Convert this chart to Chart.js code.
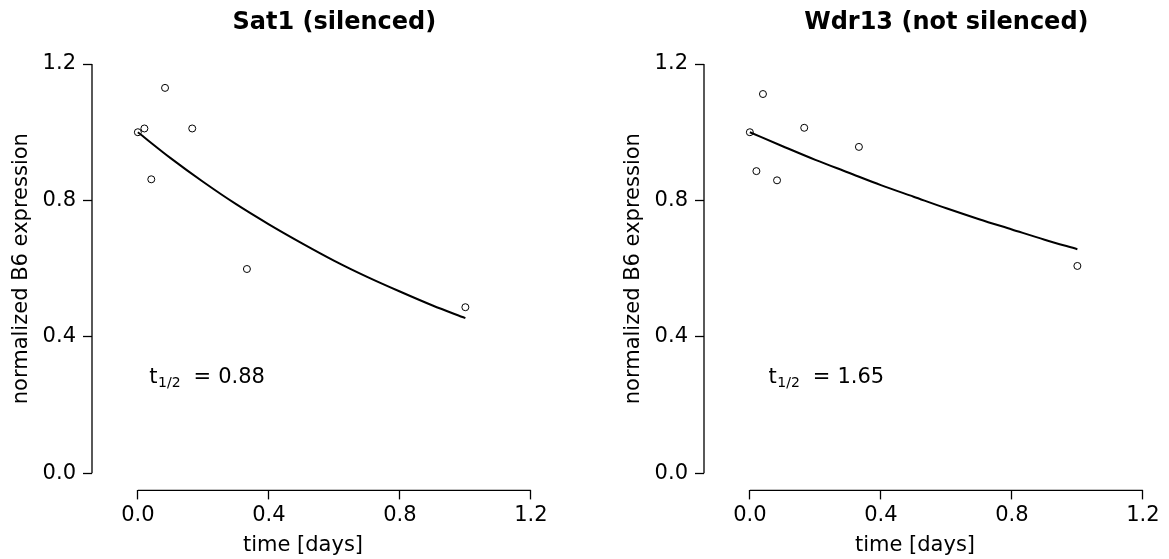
<!DOCTYPE html>
<html>
<head>
<meta charset="utf-8">
<script src="https://cdn.jsdelivr.net/npm/chart.js@4.4.1/dist/chart.umd.min.js"></script>
<style>
  body { margin: 0; background: #fff; }
  #wrap { position: relative; width: 1169px; height: 559px; }
  canvas { position: absolute; top: 0; }
</style>
</head>
<body>
<div id="wrap">
  <canvas id="panelSat1" width="557" height="559" style="left:0px"></canvas>
  <canvas id="panelWdr13" width="557" height="559" style="left:612px"></canvas>
</div>
<script>
// tiempos de muestreo (dias) y expresion normalizada
const timeDays = [0, 0.020, 0.041, 0.083, 0.166, 0.333, 1.0];
const sat1Values = [1.000, 1.011, 0.862, 1.130, 1.011, 0.599, 0.487];
const wdr13TimeDays = [0, 0.020, 0.040, 0.083, 0.166, 0.333, 1.0];
const wdr13Values = [1.000, 0.886, 1.112, 0.859, 1.013, 0.957, 0.608];

// curvas ajustadas
const fitTime = [0, 0.1, 0.2, 0.3, 0.4, 0.5, 0.6, 0.7, 0.8, 0.9, 1.0];
const sat1Fit = [1.000, 0.924, 0.854, 0.789, 0.730, 0.675, 0.623, 0.576, 0.533, 0.492, 0.455];
const wdr13Fit = [1.000, 0.959, 0.919, 0.882, 0.845, 0.811, 0.777, 0.745, 0.715, 0.685, 0.657];

const xTicks = [0, 0.4, 0.8, 1.2];
const yTicks = [0, 0.4, 0.8, 1.2];

const panelTitles = ['Sat1 (silenced)', 'Wdr13 (not silenced)'];
const xLabel = 'time [days]';
const yLabel = 'normalized B6 expression';
const halfLives = ['0.88', '1.65'];
const halfLifePosX = [0.035, 0.057];
const halfLifePosY = 0.265;

const FONT = '"DejaVu Sans", Verdana, sans-serif';

// ejes estilo R + textos
const rStyle = {
  id: 'rStyle',
  afterDraw(chart, args, opts) {
    const { ctx, chartArea, scales: { x, y } } = chart;
    const x0 = x.getPixelForValue(xTicks[0]);
    const x1 = x.getPixelForValue(xTicks[xTicks.length - 1]);
    const y0 = y.getPixelForValue(yTicks[0]);
    const y1 = y.getPixelForValue(yTicks[yTicks.length - 1]);
    ctx.save();
    ctx.strokeStyle = '#000';
    ctx.lineWidth = 1.3;
    ctx.beginPath();
    ctx.moveTo(chartArea.left, y0);
    ctx.lineTo(chartArea.left, y1);
    ctx.moveTo(x0, chartArea.bottom);
    ctx.lineTo(x1, chartArea.bottom);
    ctx.stroke();

    ctx.fillStyle = '#000';
    ctx.textAlign = 'center';
    ctx.textBaseline = 'middle';
    ctx.font = 'bold 24px ' + FONT;
    ctx.fillText(opts.titulo, (x0 + x1) / 2, 23);

    ctx.font = '21px ' + FONT;
    ctx.fillText(xLabel, chartArea.left + 211, 546);

    ctx.save();
    ctx.translate(chartArea.left - 70, (y0 + y1) / 2);
    ctx.rotate(-Math.PI / 2);
    ctx.fillText(yLabel, 0, 0);
    ctx.restore();

    // t1/2 = ...
    const px = x.getPixelForValue(opts.tx);
    const py = y.getPixelForValue(halfLifePosY);
    ctx.textAlign = 'left';
    ctx.textBaseline = 'alphabetic';
    ctx.fillText('t', px, py);
    let cx = px + ctx.measureText('t').width + 0.5;
    ctx.font = '14px ' + FONT;
    ctx.fillText('1/2', cx, py + 4);
    cx += ctx.measureText('1/2').width + 13;
    ctx.font = '21px ' + FONT;
    ctx.fillText('=', cx, py);
    cx += ctx.measureText('=').width + 7;
    ctx.fillText(opts.valor, cx, py);
    ctx.restore();
  }
};

function crearPanel(canvasId, times, values, fit, idx) {
  const ctx = document.getElementById(canvasId);
  return new Chart(ctx, {
    type: 'scatter',
    data: {
      datasets: [{
        data: times.map((t, i) => ({ x: t, y: values[i] })),
        showLine: false,
        pointRadius: 3.5,
        pointBorderWidth: 1,
        pointBorderColor: '#000',
        pointBackgroundColor: 'rgba(0,0,0,0)'
      }, {
        data: fitTime.map((t, i) => ({ x: t, y: fit[i] })),
        showLine: true,
        borderColor: '#000',
        borderWidth: 2,
        pointRadius: 0,
        cubicInterpolationMode: 'monotone'
      }]
    },
    options: {
      responsive: false,
      animation: false,
      events: [],
      layout: { padding: { top: 64, right: 16.3, bottom: 0, left: 0 } },
      plugins: {
        legend: { display: false },
        tooltip: { enabled: false },
        rStyle: { titulo: panelTitles[idx], valor: halfLives[idx], tx: halfLifePosX[idx] }
      },
      scales: {
        x: {
          type: 'linear',
          min: -0.14,
          max: 1.23,
          afterBuildTicks: s => { s.ticks = xTicks.map(v => ({ value: v })); },
          afterFit: s => { s.height = 68.6; },
          border: { display: false },
          grid: { drawOnChartArea: false, drawTicks: true, tickLength: 9, tickWidth: 1.3, tickColor: '#000' },
          ticks: {
            color: '#000',
            padding: 4,
            maxRotation: 0,
            font: { family: FONT, size: 21 },
            callback: v => v.toFixed(1)
          }
        },
        y: {
          min: -0.05,
          max: 1.2,
          afterBuildTicks: s => { s.ticks = yTicks.map(v => ({ value: v })); },
          afterFit: s => { s.width = 92; },
          border: { display: false },
          grid: { drawOnChartArea: false, drawTicks: true, tickLength: 9, tickWidth: 1.3, tickColor: '#000' },
          ticks: {
            color: '#000',
            padding: 7,
            font: { family: FONT, size: 21 },
            callback: v => v.toFixed(1)
          }
        }
      }
    },
    plugins: [rStyle]
  });
}

crearPanel('panelSat1', timeDays, sat1Values, sat1Fit, 0);
crearPanel('panelWdr13', wdr13TimeDays, wdr13Values, wdr13Fit, 1);
</script>
</body>
</html>
